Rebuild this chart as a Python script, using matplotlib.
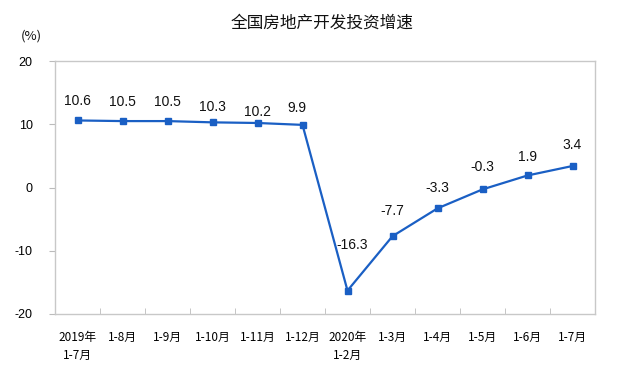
import matplotlib
matplotlib.use("Agg")
import matplotlib.pyplot as plt
import numpy as np

plt.rcParams['font.family'] = ['Noto Sans CJK SC', 'DejaVu Sans']

categories = ["2019年\n1-7月", "1-8月", "1-9月", "1-10月", "1-11月", "1-12月",
              "2020年\n1-2月", "1-3月", "1-4月", "1-5月", "1-6月", "1-7月"]
values = [10.6, 10.5, 10.5, 10.3, 10.2, 9.9, -16.3, -7.7, -3.3, -0.3, 1.9, 3.4]
labels = ["10.6", "10.5", "10.5", "10.3", "10.2", "9.9", "-16.3", "-7.7", "-3.3", "-0.3", "1.9", "3.4"]
yticks = [-20, -10, 0, 10, 20]
title = "全国房地产开发投资增速"

# label offsets in points (dx, dy)
offsets = [(0, 14), (0, 14), (0, 14), (0, 11), (0, 8), (-4, 12),
           (3, 33), (0, 18), (0, 15), (0, 16), (0, 13), (0, 15)]

fig = plt.figure(figsize=(6.37, 3.70), dpi=100)
ax = fig.add_axes([55/637, 1-314/370, 540/637, 253/370])

x = np.arange(len(values))
color = "#1A5FC4"
ax.plot(x, values, color=color, lw=1.6, marker='s', markersize=4.5,
        markerfacecolor=color, markeredgecolor=color)

for xi, v, lab, (dx, dy) in zip(x, values, labels, offsets):
    ax.annotate(lab, (xi, v), xytext=(dx, dy), textcoords='offset points',
                ha='center', va='center', fontsize=10,
                family=['Liberation Sans', 'DejaVu Sans'], color='#111111')

ax.set_xlim(-0.5, len(values) - 0.5)
ax.set_ylim(-20, 20)
ax.set_yticks(yticks)
ax.set_yticklabels([str(t) for t in yticks], fontsize=9,
                   family=['Liberation Sans', 'DejaVu Sans'])
ax.set_xticks(x)
ax.set_xticklabels(categories, fontsize=8.5, linespacing=1.55)
ax.set_xticks(np.arange(-0.5, len(values) + 0.5, 1), minor=True)
ax.tick_params(axis='x', which='major', length=0, pad=12)
ax.tick_params(axis='x', which='minor', length=4, direction='in', color='#BBBBBB')
ax.tick_params(axis='y', length=4, direction='out', color='#BBBBBB', pad=12)

for s in ax.spines.values():
    s.set_color('#C8C8C8')
    s.set_linewidth(1.0)

fig.text(322/637, 1-23/370, title, ha='center', va='center', fontsize=12, color='#111111')
fig.text(31/637, 1-36/370, "(%)", ha='center', va='center', fontsize=9.5, color='#111111')

fig.savefig("out.png", dpi=100)
